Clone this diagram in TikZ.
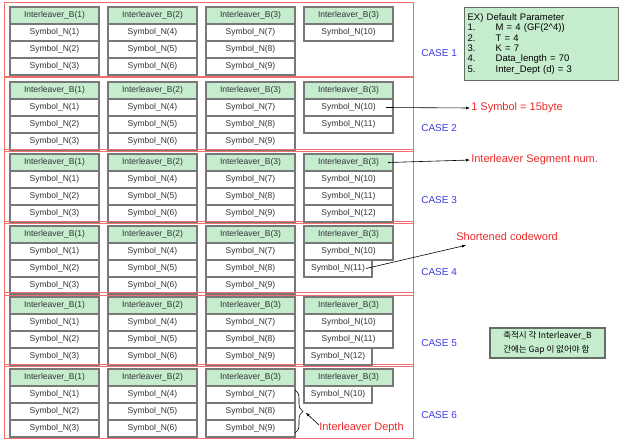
\documentclass[tikz,border=0pt]{standalone}
\usepackage{fontspec}
\setmainfont{Liberation Sans}
\newfontfamily\krfont{Noto Sans CJK KR}
\usetikzlibrary{positioning,arrows.meta,decorations.pathreplacing}
\definecolor{hdrgreen}{RGB}{198,236,206}
\definecolor{cellgray}{RGB}{120,120,120}
\definecolor{casered}{RGB}{240,110,110}
\definecolor{caseblue}{RGB}{60,60,225}
\definecolor{notered}{RGB}{235,40,40}
\definecolor{boxgray}{RGB}{100,110,100}
\tikzset{
  every picture/.style={line width=0.6pt},
  segbox/.style={draw=cellgray,fill=hdrgreen,minimum width=89pt,minimum height=17pt,inner sep=0pt,outer sep=0pt,line width=1.1pt,text=black!80,font=\fontsize{8.5}{9}\selectfont},
  symbox/.style={segbox,fill=white},
  shortbox/.style={symbox,minimum width=68pt},
  casebox/.style={draw=casered,line width=1pt},
  caselbl/.style={text=caseblue,font=\fontsize{10}{12}\selectfont,anchor=west,inner sep=0pt},
  note/.style={text=notered,font=\fontsize{11}{13}\selectfont,anchor=west,inner sep=0pt},
  infobox/.style={draw=boxgray,fill=hdrgreen,line width=1.3pt,align=left},
  ptr/.style={-{Latex[length=4pt,width=3pt]},line width=0.6pt,shorten >=1pt},
}
\begin{document}
\begin{tikzpicture}[x=1pt,y=-1pt]
\useasboundingbox (0,0) rectangle (626,447);
% case frames with interleaver blocks 1..3
\foreach \cn/\yt in {1/3,2/78,3/150,4/222,5/293,6/365}{
  \draw[casebox] (4,\yt-1) rectangle (413,\yt+73);
  \node[caselbl] (case\cn) at (421,\yt+50) {CASE \cn};
  \foreach \k/\x in {1/54.5,2/152.5,3/250.5}{
    \node[segbox] (b\cn\k) at (\x,\yt+12.5) {Interleaver\_B(\k)};
    \foreach \rw in {1,2,3}{
      \pgfmathtruncatemacro\num{3*(\k-1)+\rw}
      \node[symbox] (n\cn\k\rw) at (\x,\yt+12.5+17*\rw) {Symbol\_N(\num)};
    }
  }
  \node[segbox] (b\cn4) at (348.5,\yt+12.5) {Interleaver\_B(3)};
}
% last block, case by case
\node[symbox,below=0pt of b14] (n141) {Symbol\_N(10)};
\node[symbox,below=0pt of b24] (n241) {Symbol\_N(10)};
\node[symbox,below=0pt of n241] (n242) {Symbol\_N(11)};
\node[symbox,below=0pt of b34] (n341) {Symbol\_N(10)};
\node[symbox,below=0pt of n341] (n342) {Symbol\_N(11)};
\node[symbox,below=0pt of n342] (n343) {Symbol\_N(12)};
\node[symbox,below=0pt of b44] (n441) {Symbol\_N(10)};
\node[shortbox,anchor=north west] (n442) at (n441.south west) {Symbol\_N(11)};
\node[symbox,below=0pt of b54] (n541) {Symbol\_N(10)};
\node[symbox,below=0pt of n541] (n542) {Symbol\_N(11)};
\node[shortbox,anchor=north west] (n543) at (n542.south west) {Symbol\_N(12)};
\node[shortbox,anchor=north west] (n641) at (b64.south west) {Symbol\_N(10)};
% parameters
\node[infobox,anchor=north west,minimum height=73pt,text width=148pt,inner sep=3pt,font=\fontsize{9.5}{10.4}\selectfont] (param) at (464,7) {%
\begin{tabular}{@{}p{28pt}@{}l@{}}
\multicolumn{2}{@{}l@{}}{EX) Default Parameter}\\
1. & M = 4 (GF(2\^{}4))\\
2. & T = 4\\
3. & K = 7\\
4. & Data\_length = 70\\
5. & Inter\_Dept (d) = 3
\end{tabular}};
\node[infobox,line width=1.1pt,minimum width=115pt,minimum height=30pt,font=\krfont\fontsize{8.5}{14}\selectfont] (gapnote) at (547.5,343) {축적시 각 Interleaver\_B\\간에는 Gap 이 없어야 함};
% notes
\node[note] (symlbl) at (471,108) {1 Symbol = 15byte};
\node[note] (seglbl) at (471,160) {Interleaver Segment num.};
\node[note] (shortlbl) at (456,237) {Shortened codeword};
\node[note] (depthlbl) at (319,428) {Interleaver Depth};
\coordinate (shortend) at (467,245);
\coordinate (bracetip) at (305,412);
\draw[ptr] ([xshift=-7pt]n241.east) -- (symlbl.west);
\draw[ptr] ([xshift=-5pt]b34.east) -- (seglbl.west);
\draw[ptr] ([xshift=-6pt]n442.east) -- (shortend);
\draw[ptr] ([yshift=3pt]depthlbl.west) -- (bracetip);
\draw[decorate,decoration={brace,amplitude=8pt}] (295,390) -- (295,433);
\end{tikzpicture}
\end{document}
